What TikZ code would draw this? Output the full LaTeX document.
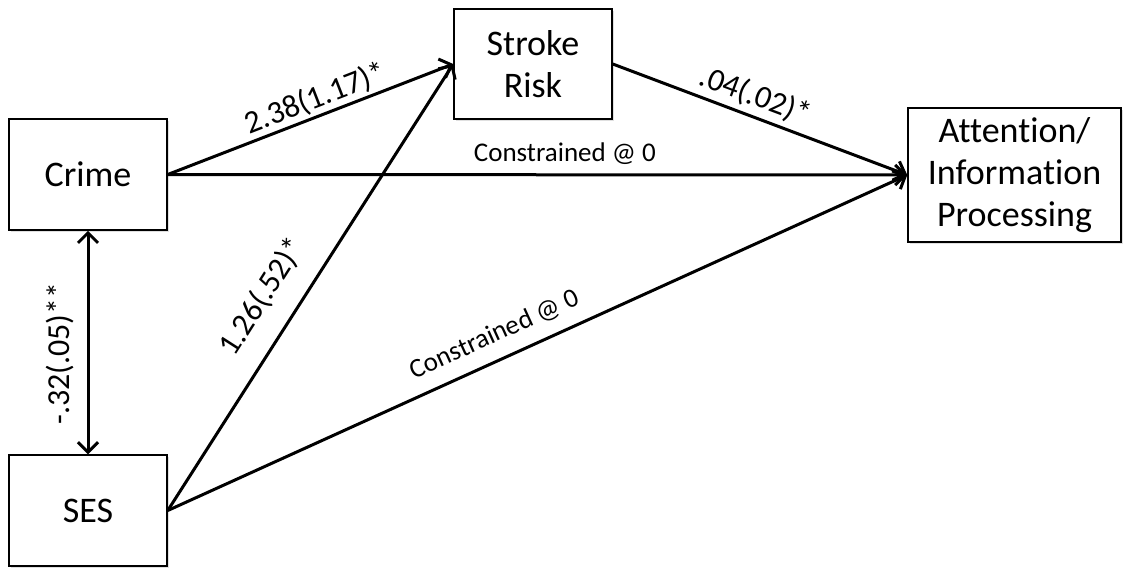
\documentclass[tikz,border=0pt]{standalone}
\usepackage{fontspec}
\setmainfont{Carlito}[Ligatures=NoCommon]
\usetikzlibrary{arrows.meta,shadows}
\begin{document}
\begin{tikzpicture}[x=1pt,y=-1pt,
  box/.style={draw, line width=1.5pt, fill=white, inner sep=0pt,
    font=\fontsize{36}{42}\selectfont, align=center,
    drop shadow={opacity=0.25, shadow xshift=2pt, shadow yshift=-2pt}},
  conn/.style={line width=3pt, -{Straight Barb[length=10pt,width=20pt,line width=3pt]}},
  dconn/.style={line width=3pt, {Straight Barb[length=10pt,width=20pt,line width=3pt]}-{Straight Barb[length=10pt,width=20pt,line width=3pt]}},
  lab/.style={font=\fontsize{27}{32}\selectfont, sloped, above, inner xsep=0pt},
  num/.style={lab, font=\fontsize{32}{38}\selectfont}]
\useasboundingbox (0,0) rectangle (1123,567);
\node[box, minimum width=158pt, minimum height=111pt] (crime) at (88,174.5) {Crime};
\node[box, minimum width=158pt, minimum height=111pt] (ses) at (88,510.5) {SES};
\node[box, minimum width=158pt, minimum height=110pt] (stroke) at (533,64) {Stroke\\Risk};
\node[box, minimum width=213pt, minimum height=134pt] (attn) at (1014.5,175) {Attention/\\Information\\Processing};
\draw[conn] (crime.east) -- (stroke.west) node[num, pos=0.54, inner ysep=2pt] {2.38(1.17)*};
\draw[conn] (stroke.east) -- (attn.west) node[num, pos=0.46, inner ysep=5pt] {.04(.02)*};
\draw[conn] (crime.east) -- (attn.west) node[lab, pos=0.537, inner ysep=9pt] {Constrained @ 0};
\draw[conn] (ses.east) -- (stroke.west) node[num, pos=0.436, inner ysep=20pt] {1.26(.52)*};
\draw[conn] (ses.east) -- (attn.west) node[lab, pos=0.456, inner ysep=13pt] {Constrained @ 0};
\draw[dconn] (ses.north) -- (crime.south) node[num, pos=0.45, inner ysep=13pt] {-.32(.05)**};
\end{tikzpicture}
\end{document}
